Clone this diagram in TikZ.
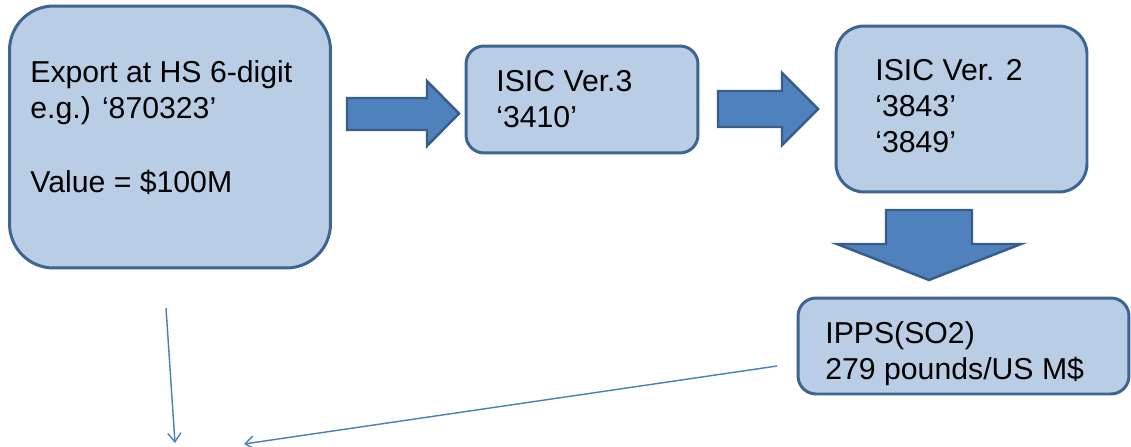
\documentclass[tikz,border=0pt]{standalone}
\usepackage{fontspec}
\setmainfont{Liberation Sans}
\usetikzlibrary{arrows.meta}
\definecolor{boxfill}{HTML}{B9CDE5}
\definecolor{boxline}{HTML}{3E6494}
\definecolor{arrowfill}{HTML}{4F81BD}
\definecolor{arrowline}{HTML}{385D8A}
\definecolor{linkcolor}{HTML}{4A7EBB}
\begin{document}
\begin{tikzpicture}[x=0.02cm, y=-0.02cm,
	box/.style={draw=boxline, fill=boxfill, line width=1.7pt, inner sep=0pt},
	boxtext/.style={anchor=north west, inner sep=0pt, align=left, font=\fontsize{17.2}{20.4}\selectfont},
	bigarrow/.style={draw=arrowline, fill=arrowfill, line width=1.4pt, line join=miter},
	linkarrow/.style={draw=linkcolor, line width=0.8pt, -{Straight Barb[length=5pt,width=7.5pt]}}]
\useasboundingbox (0,0) rectangle (1131,446);
\node[box, rounded corners=0.88cm, minimum width=6.42cm, minimum height=5.24cm] (export) at (170,137) {};
\node[boxtext] (exportText) at (30,57) {\strut Export at HS 6-digit\\ e.g.) ‘870323’\\[22pt] Value = \$100M};
\node[box, rounded corners=0.36cm, minimum width=4.64cm, minimum height=2.14cm] (isicThree) at (582,99.5) {};
\node[boxtext] (isicThreeText) at (496,66) {\strut ISIC Ver.3\\ ‘3410’};
\node[box, rounded corners=0.56cm, minimum width=5.02cm, minimum height=3.32cm] (isicTwo) at (961.5,109) {};
\node[boxtext] (isicTwoText) at (875,55) {\strut ISIC Ver. 2\\ ‘3843’\\ ‘3849’};
\node[box, rounded corners=0.36cm, minimum width=6.62cm, minimum height=1.92cm] (ipps) at (963.5,346) {};
\node[boxtext] (ippsText) at (825,318) {\strut IPPS(SO2)\\ 279 pounds/US M\$};
\draw[bigarrow] (347,98) -- (427,98) -- (427,81) -- (459,113.5) -- (427,146) -- (427,130) -- (347,130) -- cycle;
\draw[bigarrow] (718,91) -- (782,91) -- (782,73) -- (818,109) -- (782,145) -- (782,127) -- (718,127) -- cycle;
\draw[bigarrow] (886,210) -- (972,210) -- (972,244) -- (1021,244) -- (929,280) -- (837,244) -- (886,244) -- cycle;
\coordinate (exportFrom) at (166,308);
\coordinate (exportTo) at (175,443);
\coordinate (ippsFrom) at (777,366);
\coordinate (ippsTo) at (244,444);
\draw[linkarrow] (exportFrom) -- (exportTo);
\draw[linkarrow] (ippsFrom) -- (ippsTo);
\end{tikzpicture}
\end{document}
